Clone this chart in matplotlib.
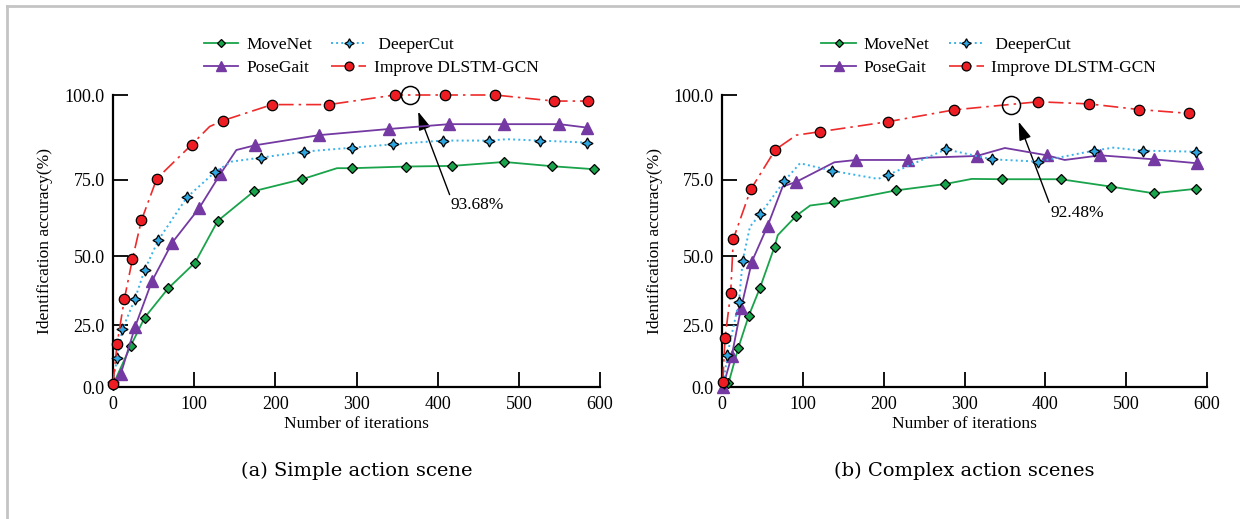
import matplotlib
matplotlib.use("Agg")
import matplotlib.pyplot as plt
from matplotlib.lines import Line2D
import numpy as np

plt.rcParams['font.family'] = ['Liberation Serif', 'DejaVu Serif']

# ---- data: (a) simple action scene ----
a_movenet_x = [0, 22, 39, 68, 101, 129, 174, 233, 276, 295, 361, 418, 482, 541, 592]
a_movenet_y = [1.0, 17.1, 27.9, 38.7, 47.8, 61.9, 71.5, 75.2, 78.6, 78.6, 79.1, 79.3, 80.5, 79.2, 78.3]
a_movenet_nomark = [8]

a_posegait_x = [0, 9.5, 27, 48, 73, 106, 132, 152, 175, 254, 340, 414, 482, 550, 584]
a_posegait_y = [0, 5.5, 24.2, 41.3, 54.7, 66.0, 76.7, 84.1, 85.5, 88.5, 90.3, 91.7, 91.7, 91.7, 90.7]
a_posegait_nomark = [0, 7]

a_deepercut_x = [0, 5.3, 11.5, 27, 39, 56, 91, 126, 146, 182, 235, 295, 345, 406, 463, 485, 526, 584]
a_deepercut_y = [2.4, 12.3, 23.4, 34.8, 45.3, 55.6, 69.5, 77.5, 80.6, 81.8, 83.6, 84.8, 85.8, 86.9, 86.9, 87.3, 86.9, 86.3]
a_deepercut_nomark = [8, 15]

a_improve_x = [0, 5, 14, 24, 35, 54, 97, 119, 135, 196, 266, 347, 409, 471, 543, 585]
a_improve_y = [1.5, 17.6, 34.8, 49.1, 62.1, 75.4, 85.7, 91.0, 92.7, 97.3, 97.3, 100, 100, 100, 98.3, 98.3]
a_improve_nomark = [7]

# ---- data: (b) complex action scenes ----
b_movenet_x = [0, 8, 20, 33, 47, 65, 69, 92, 109, 139, 215, 276, 309, 346, 419, 481, 534, 586]
b_movenet_y = [0, 1.7, 16.0, 28.5, 38.9, 53.3, 57.2, 63.6, 66.9, 67.9, 71.7, 73.7, 75.3, 75.2, 75.2, 72.9, 70.8, 72.2]
b_movenet_nomark = [0, 6, 8, 12]

b_posegait_x = [1, 12, 23.5, 37, 56.5, 75, 92, 139, 166, 230, 253, 315, 350, 402, 424, 468, 534, 588]
b_posegait_y = [0, 12.9, 31.4, 48.2, 60.3, 72.9, 74.4, 80.4, 81.1, 81.1, 81.8, 82.3, 84.7, 82.5, 81.1, 82.5, 81.3, 80.1]
b_posegait_nomark = [5, 7, 10, 12, 14]

b_deepercut_x = [2, 6.6, 21, 25.6, 34.6, 47, 77, 96.5, 136.5, 193, 205, 277, 334, 391, 460, 484, 521, 586]
b_deepercut_y = [2, 13.4, 33.9, 48.5, 60.0, 64.0, 74.6, 80.1, 77.8, 75.3, 76.5, 84.3, 81.3, 80.6, 83.9, 84.8, 83.9, 83.6]
b_deepercut_nomark = [4, 7, 9, 15]

b_improve_x = [1, 3.7, 10.7, 14, 35.5, 66, 92, 121, 205, 287, 391, 454, 516, 578]
b_improve_y = [2.4, 19.9, 36.9, 55.9, 72.0, 84.2, 88.5, 89.5, 92.4, 95.8, 98.1, 97.5, 95.9, 94.8]
b_improve_nomark = [6]

# highlighted best points + annotation text
peaks = [(366, 100.0), (357, 97.2)]
peak_labels = ["93.68%", "92.48%"]
arrow_heads = [(376, 95.3), (367, 92.4)]
label_pos = [(416, 69.5), (406, 67.0)]

captions = ["(a) Simple action scene", "(b) Complex action scenes"]
y_ticks = [0, 25, 50, 75, 100]
x_ticks = [0, 100, 200, 300, 400, 500, 600]

# the printed y axis is stretched towards the top
K = 0.00417


def fwd(v):
    return np.exp(K * np.asarray(v, dtype=float))


def inv(y):
    return np.log(np.clip(np.asarray(y, dtype=float), 1e-12, None)) / K


styles = {
    'MoveNet': dict(color='#19a34a', ls='-', lw=1.3, marker='D', ms=4.8, mfc='#19a34a', mec='black', mew=0.9),
    'DeeperCut': dict(color='#38b2ea', ls=':', lw=1.4, marker=(4, 1, 0), ms=8, mfc='#2fa6e0', mec='black', mew=0.9),
    'PoseGait': dict(color='#7439a2', ls='-', lw=1.3, marker='^', ms=8, mfc='#7439a2', mec='#7439a2', mew=1.0),
    'Improve DLSTM-GCN': dict(color='#ee2a2a', ls=(0, (9, 3, 1.5, 3)), lw=1.2, marker='o', ms=7.5, mfc='#ee1d23', mec='black', mew=0.9),
}

panels = [
    [('MoveNet', a_movenet_x, a_movenet_y, a_movenet_nomark),
     ('PoseGait', a_posegait_x, a_posegait_y, a_posegait_nomark),
     ('DeeperCut', a_deepercut_x, a_deepercut_y, a_deepercut_nomark),
     ('Improve DLSTM-GCN', a_improve_x, a_improve_y, a_improve_nomark)],
    [('MoveNet', b_movenet_x, b_movenet_y, b_movenet_nomark),
     ('PoseGait', b_posegait_x, b_posegait_y, b_posegait_nomark),
     ('DeeperCut', b_deepercut_x, b_deepercut_y, b_deepercut_nomark),
     ('Improve DLSTM-GCN', b_improve_x, b_improve_y, b_improve_nomark)],
]

W, H = 1240, 519
fig = plt.figure(figsize=(W / 100, H / 100), dpi=100)

# light frame on top and left edges
fig.add_artist(Line2D([7 / W, 1], [1 - 6 / H] * 2, color='#c4c4c4', lw=2))
fig.add_artist(Line2D([7 / W] * 2, [0, 1 - 6 / H], color='#c4c4c4', lw=2))

ax_px = [(113, 600), (722, 1207)]
legend_x = [0.53, 0.55]
ylabel_x = [45, 655]

for i, series in enumerate(panels):
    x0, x1 = ax_px[i]
    ax = fig.add_axes([x0 / W, 1 - 387.3 / H, (x1 - x0) / W, 292.3 / H])
    ax.set_yscale('function', functions=(fwd, inv))
    z = 3
    for name, xs, ys, nomark in series:
        st = styles[name]
        mk = [j for j in range(len(xs)) if j not in nomark]
        lbl = ' DeeperCut' if name == 'DeeperCut' else name
        ax.plot(xs, ys, markevery=mk, label=lbl, clip_on=False, zorder=z, **st)
        z += 1

    px, py = peaks[i]
    ax.plot([px], [py], 'o', ms=13, mfc='none', mec='black', mew=1.1, clip_on=False, zorder=10)
    ax.annotate(peak_labels[i], xy=arrow_heads[i], xytext=label_pos[i],
                ha='left', va='top', fontsize=12.5,
                arrowprops=dict(arrowstyle='-|>,head_length=0.9,head_width=0.3',
                                color='black', lw=1.0, relpos=(0, 1),
                                shrinkA=0, shrinkB=0))

    ax.set_xlim(0, 600)
    ax.set_ylim(0, 100)
    ax.set_xticks(x_ticks)
    ax.set_yticks(y_ticks)
    ax.set_yticklabels([f"{v:.1f}" for v in y_ticks])
    ax.tick_params(direction='in', length=11, width=1.3, labelsize=13, pad=6)
    for s in ['top', 'right']:
        ax.spines[s].set_visible(False)
    for s in ['left', 'bottom']:
        ax.spines[s].set_linewidth(1.6)

    handles, labels = ax.get_legend_handles_labels()
    ax.legend(handles, labels, ncol=2, loc='center', bbox_to_anchor=(legend_x[i], 1.132),
              frameon=False, fontsize=12.5, handlelength=2.0, handletextpad=0.45,
              columnspacing=1.1, labelspacing=0.35, markerscale=0.85)

    cx = (x0 + x1) / 2 / W
    fig.text(cx, 1 - 424 / H, "Number of iterations", ha='center', va='center', fontsize=12.5)
    fig.text(cx, 1 - 471 / H, captions[i], ha='center', va='center', fontsize=14,
             family='DejaVu Serif')
    fig.text(ylabel_x[i] / W, 1 - 241 / H, "Identification accuracy(%)", rotation=90,
             ha='center', va='center', fontsize=12.5)

fig.savefig("out.png", dpi=100)
